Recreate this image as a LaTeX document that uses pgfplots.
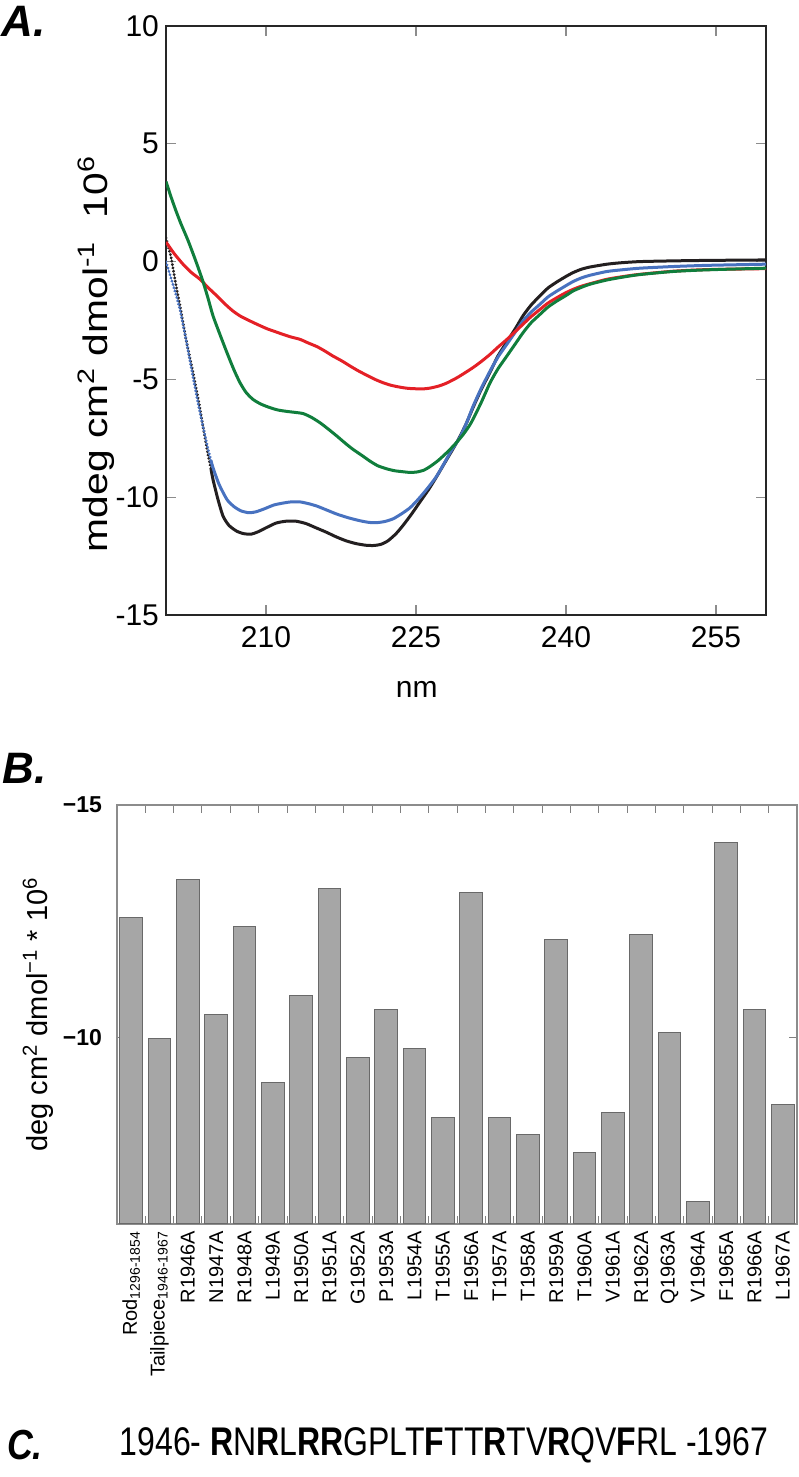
\documentclass[border=0pt]{standalone}
\usepackage{fontspec}
\setmainfont{Liberation Sans}
\usepackage{graphicx}
\usepackage{pgfplots}
\pgfplotsset{compat=1.18}
\definecolor{cdblack}{RGB}{35,31,32}
\definecolor{cdblue}{RGB}{72,114,192}
\definecolor{cdgreen}{RGB}{16,126,60}
\definecolor{cdred}{RGB}{228,32,38}
\definecolor{bargray}{RGB}{166,166,166}
\definecolor{baredge}{RGB}{105,105,105}
\begin{document}
\begin{tikzpicture}
\useasboundingbox (0,0) rectangle (399pt,738.5pt);
% ---------------- Panel A ----------------
\begin{axis}[
  at={(83pt,431pt)}, anchor=south west,
  width=300pt, height=294.5pt, scale only axis,
  xmin=200, xmax=260, ymin=-15, ymax=10,
  xtick={210,225,240,255}, ytick={-15,-10,-5,0,5,10},
  tick align=inside, major tick length=5pt,
  every tick/.style={black!45, line width=0.6pt},
  axis line style={line width=1pt, black!85},
  tick label style={font=\fontsize{15}{17}\selectfont},
  /pgf/number format/assume math mode=true,
  xticklabel style={yshift=-2pt},
  xlabel={nm},
  xlabel style={at={(axis description cs:0.418,-0.127)}, anchor=center, font=\fontsize{15}{17}\selectfont},
  ylabel={\scalebox{1.2}[1]{mdeg cm\textsuperscript{2} dmol\textsuperscript{-1}\ \ 10\textsuperscript{6}}},
  ylabel style={at={(axis description cs:-0.1167,0.443)}, anchor=center, font=\fontsize{17}{19}\selectfont},
  clip=true,
]
% black dotted start
\addplot[cdblack, line width=1.5pt, dash pattern=on 0.1pt off 1.6pt, line cap=round] coordinates {
(200.0,1.0)(200.5,0.2)(201.0,-1.0)(201.5,-2.1)(202.0,-3.3)(202.7,-4.7)(203.3,-6.0)(203.7,-7.0)(204.2,-8.2)(204.5,-8.8)};
\addplot[cdblack, line width=1.5pt, smooth, tension=0.4] coordinates {
(204.5,-8.8)(204.7,-9.25)(205.2,-10.1)(205.7,-10.8)(206.3,-11.2)(207.1,-11.45)(207.8,-11.55)(208.5,-11.57)(209.2,-11.47)
(210.0,-11.3)(211.0,-11.1)(212.0,-11.02)(213.0,-11.02)(214.0,-11.12)(215.0,-11.3)(216.0,-11.48)(217.0,-11.68)
(218.0,-11.85)(219.0,-11.97)(220.0,-12.04)(220.8,-12.05)(221.5,-12.0)(222.2,-11.85)(223.0,-11.55)(223.7,-11.2)
(224.5,-10.75)(225.4,-10.2)(226.3,-9.65)(227.1,-9.1)(228.0,-8.45)(228.7,-7.95)(229.3,-7.5)(230.0,-6.9)(230.7,-6.2)
(231.5,-5.45)(232.4,-4.7)(233.2,-4.0)(234.1,-3.4)(235.0,-2.8)(235.7,-2.3)(236.5,-1.85)(237.4,-1.45)(238.2,-1.12)
(239.1,-0.86)(240.0,-0.63)(240.7,-0.47)(241.5,-0.33)(242.4,-0.23)(244.1,-0.11)(245.5,-0.05)(247.4,0.0)
(250.7,0.03)(254.1,0.05)(260.0,0.07)};
% blue
\addplot[cdblue, line width=1.5pt, dash pattern=on 0.1pt off 1.6pt, line cap=round] coordinates {
(200.0,0.0)(200.5,-0.7)(201.0,-1.4)(201.4,-2.03)(202.0,-3.3)(202.7,-4.9)(203.2,-6.0)(203.7,-7.0)(204.2,-7.95)(204.5,-8.45)};
\addplot[cdblue, line width=1.5pt, smooth, tension=0.4] coordinates {
(204.5,-8.45)(204.7,-8.75)(205.3,-9.45)(206.1,-10.1)(206.8,-10.4)(207.5,-10.58)(208.3,-10.66)(209.0,-10.62)(209.8,-10.5)
(210.8,-10.33)(211.7,-10.25)(212.5,-10.2)(213.4,-10.2)(214.3,-10.28)(215.1,-10.38)(216.1,-10.55)(217.1,-10.72)
(218.2,-10.87)(219.4,-11.0)(220.3,-11.07)(221.1,-11.08)(221.9,-11.03)(222.7,-10.92)(223.5,-10.72)(224.4,-10.45)
(225.2,-10.1)(226.1,-9.65)(227.0,-9.15)(227.7,-8.65)(228.5,-8.05)(229.4,-7.45)(230.1,-6.8)(230.7,-6.15)(231.5,-5.4)
(232.4,-4.65)(233.2,-4.05)(234.1,-3.5)(235.0,-2.95)(235.7,-2.52)(236.5,-2.15)(237.4,-1.81)(238.2,-1.5)(239.1,-1.25)
(240.0,-1.02)(240.7,-0.85)(241.5,-0.7)(242.4,-0.58)(244.1,-0.42)(245.8,-0.34)(247.4,-0.28)(250.7,-0.21)(254.1,-0.16)(260.0,-0.11)};
% red
\addplot[cdred, line width=1.5pt, smooth, tension=0.4] coordinates {
(200.0,0.83)(200.8,0.35)(201.7,-0.11)(202.5,-0.45)(203.4,-0.75)(204.2,-1.1)(205.1,-1.46)(205.9,-1.8)(206.7,-2.1)
(207.5,-2.33)(208.4,-2.52)(209.2,-2.68)(210.1,-2.85)(210.9,-2.97)(211.7,-3.09)(212.5,-3.2)(213.4,-3.3)(214.2,-3.45)
(215.1,-3.61)(215.9,-3.8)(216.7,-4.01)(217.6,-4.22)(218.4,-4.43)(219.2,-4.63)(220.1,-4.83)(220.9,-5.0)(221.7,-5.14)
(222.5,-5.25)(223.4,-5.33)(224.2,-5.38)(225.1,-5.4)(225.8,-5.4)(226.4,-5.37)(227.3,-5.28)(228.1,-5.15)(229.1,-4.93)
(229.9,-4.72)(230.7,-4.5)(231.5,-4.25)(232.4,-3.94)(233.2,-3.63)(234.1,-3.3)(234.9,-2.98)(235.7,-2.66)(236.5,-2.34)
(237.4,-2.03)(238.2,-1.76)(239.1,-1.53)(239.9,-1.34)(240.7,-1.18)(241.5,-1.05)(242.4,-0.94)(244.1,-0.75)(245.8,-0.63)
(247.4,-0.54)(250.7,-0.41)(254.1,-0.34)(260.0,-0.30)};
% green
\addplot[cdgreen, line width=1.5pt, smooth, tension=0.4] coordinates {
(200.0,3.4)(200.5,2.75)(201.0,2.15)(201.5,1.6)(202.2,0.9)(203.0,0.0)(203.7,-0.85)(204.2,-1.55)(204.7,-2.3)(205.4,-3.1)
(206.1,-3.87)(206.8,-4.6)(207.4,-5.14)(208.0,-5.55)(208.7,-5.85)(209.5,-6.05)(210.4,-6.2)(211.2,-6.3)(212.1,-6.36)
(212.9,-6.4)(213.7,-6.45)(214.5,-6.6)(215.4,-6.84)(216.2,-7.1)(217.1,-7.41)(217.9,-7.7)(218.7,-7.97)(219.6,-8.23)
(220.4,-8.47)(221.2,-8.67)(222.1,-8.8)(222.9,-8.88)(223.7,-8.92)(224.4,-8.95)(225.1,-8.93)(225.8,-8.85)(226.4,-8.7)
(227.2,-8.45)(228.1,-8.1)(228.9,-7.75)(229.7,-7.35)(230.5,-6.85)(231.5,-6.0)(232.4,-5.15)(233.2,-4.55)(234.1,-4.0)
(235.0,-3.45)(235.7,-3.02)(236.5,-2.6)(237.4,-2.24)(238.2,-1.93)(239.1,-1.67)(240.0,-1.44)(240.7,-1.25)(241.5,-1.1)
(242.4,-0.96)(244.1,-0.78)(245.8,-0.65)(247.4,-0.55)(250.7,-0.42)(254.1,-0.35)(260.0,-0.28)};
\end{axis}
% ---------------- Panel B ----------------
\begin{axis}[
  at={(58.5pt,126.5pt)}, anchor=south west,
  width=340pt, height=209.5pt, scale only axis,
  xmin=-0.5, xmax=23.5, ymin=6, ymax=15,
  ybar, bar width=0.81, bar shift=0pt,
  xtick={0,...,23},
  xticklabels={Rod\textsubscript{1296-1854},Tailpiece\textsubscript{1946-1967},R1946A,N1947A,R1948A,L1949A,R1950A,R1951A,G1952A,P1953A,L1954A,T1955A,F1956A,T1957A,T1958A,R1959A,T1960A,V1961A,R1962A,Q1963A,V1964A,F1965A,R1966A,L1967A},
  minor xtick={0.5,1.5,...,22.5},
  major tick length=4pt, minor tick length=4pt,
  every major x tick/.style={draw=none},
  ytick={10,15}, yticklabels={\textbf{−10},\textbf{−15}},
  tick align=inside,
  every tick/.style={black!50, line width=0.5pt},
  axis line style={black!45, line width=0.6pt},
  xticklabel style={rotate=90, anchor=east, font=\fontsize{10}{12}\selectfont},
  yticklabel style={font=\bfseries\fontsize{11.5}{13}\selectfont, xshift=-4pt},
  ylabel={deg cm\textsuperscript{2} dmol\textsuperscript{−1} * 10\textsuperscript{6}},
  ylabel style={at={(axis description cs:-0.116,0.5)}, anchor=center, font=\fontsize{14.5}{16}\selectfont},
]
\addplot[fill=bargray, draw=baredge, line width=0.5pt] coordinates {
(0,12.59)(1,9.98)(2,13.39)(3,10.51)(4,12.40)(5,9.04)(6,10.91)(7,13.20)(8,9.57)(9,10.61)
(10,9.77)(11,8.28)(12,13.11)(13,8.29)(14,7.93)(15,12.11)(16,7.54)(17,8.40)(18,12.21)(19,10.11)
(20,6.49)(21,14.20)(22,10.61)(23,8.57)};
\end{axis}
% ---------------- panel letters and sequence ----------------
\node[font=\bfseries\itshape\fontsize{22}{24}\selectfont] at (12pt,728pt) {A.};
\node[font=\bfseries\itshape\fontsize{22}{24}\selectfont] at (12.5pt,354.5pt) {B.};
\node[font=\bfseries\itshape\fontsize{21}{23}\selectfont, xscale=0.85] at (12.5pt,16pt) {C.};
\node[anchor=west, xscale=0.8, font=\fontsize{20}{22}\selectfont] at (57pt,16pt)
  {1946- \textbf{R}N\textbf{R}L\textbf{RR}GPLT\textbf{F}TT\textbf{R}TV\textbf{R}QV\textbf{F}RL -1967};
\end{tikzpicture}
\end{document}
